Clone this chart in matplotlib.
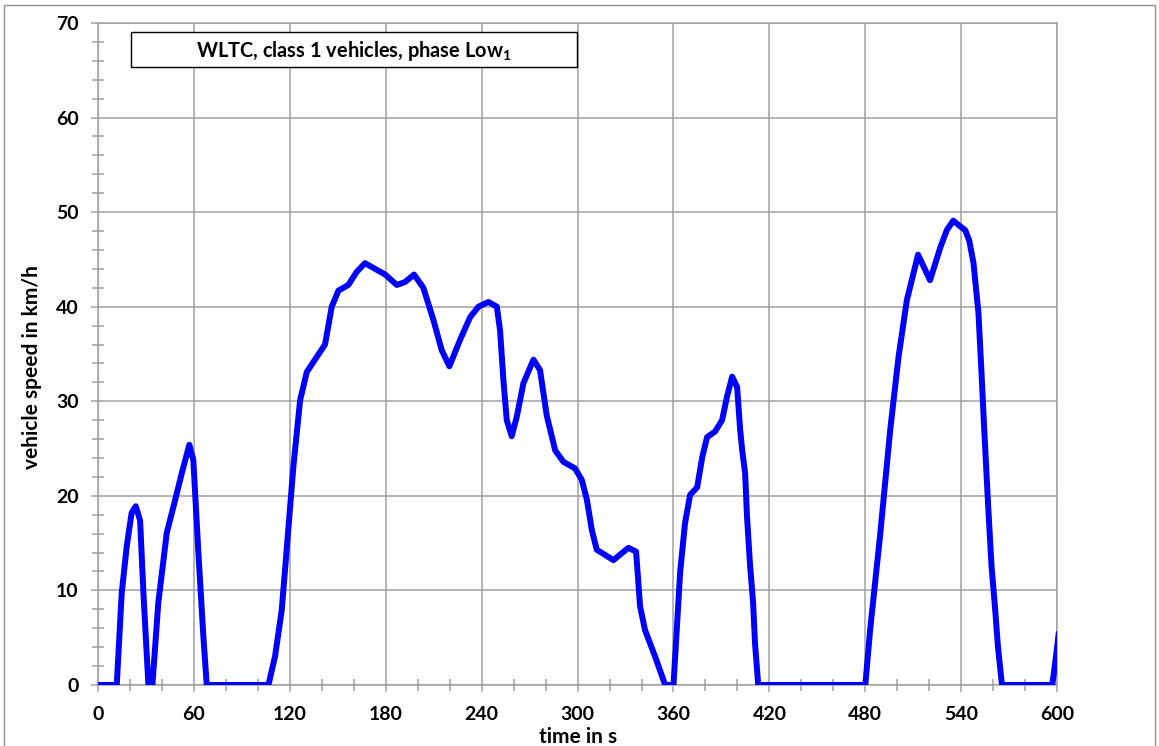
import numpy as np
import matplotlib
matplotlib.use('Agg')
import matplotlib.pyplot as plt
from matplotlib.patches import Rectangle
from matplotlib.ticker import MultipleLocator

# WLTC class 1, phase Low1
time_s = [0, 11.7, 14.8, 17.9, 21, 23.6, 26.3, 28.4, 31.5, 34, 37.7, 43, 47.1, 52.4, 57.1,
          59.6, 62.8, 65.9, 68, 106.6, 110.7, 114.9, 118, 122.2, 126.4, 130.6, 142, 146.2,
          150.4, 156.6, 161.9, 167, 179.6, 186.9, 192, 197.7, 203.5, 209.8, 215, 219.8,
          226.5, 232.8, 238, 244.2, 249.5, 251.5, 253.6, 255.7, 258.8, 262, 266.1, 272.4,
          276.5, 280.7, 286, 291.1, 298.4, 302.6, 305.8, 308.9, 312, 322.4, 331.8, 336.6,
          339.1, 342.2, 348.5, 354.8, 360, 364.2, 367.2, 370.4, 374.8, 378, 381, 386, 390.4,
          393.5, 396.7, 399.8, 401.7, 403, 404.8, 406, 407.8, 409.8, 411, 413, 480, 483,
          489.3, 495.6, 500.8, 506, 513, 520.5, 527, 531, 535, 539.3, 542.5, 545, 547.7,
          550.8, 552.9, 554.4, 557, 559, 561, 563, 565.5, 597, 600, 601]
speed_kmh = [0, 0, 9.7, 14.6, 18.2, 18.9, 17.4, 9.7, 0, 0, 8.7, 16.1, 18.8, 22.4, 25.4,
             23.8, 13.9, 5.1, 0, 0, 3.0, 7.9, 14.3, 23.1, 30.1, 33.1, 36, 40,
             41.7, 42.3, 43.7, 44.6, 43.4, 42.3, 42.6, 43.4, 42, 38.6, 35.4, 33.7,
             36.5, 38.9, 40, 40.5, 40, 37.5, 32.2, 28, 26.3, 28.4, 31.9, 34.4,
             33.3, 28.5, 24.8, 23.6, 22.9, 21.7, 19.6, 16.4, 14.3, 13.2, 14.5, 14.1,
             8.3, 5.8, 3.0, 0, 0, 12, 17.1, 20.1, 20.9, 24.1, 26.2, 26.8, 28,
             30.5, 32.6, 31.5, 27, 24.8, 22.4, 17.8, 12.9, 8.7, 4.4, 0, 0, 5.8,
             15.9, 27, 34.7, 40.7, 45.5, 42.8, 46.3, 48.1, 49.1, 48.5, 48.1, 47, 44.6,
             39.3, 32.3, 27, 18.5, 12.5, 8.5, 4, 0, 0, 4, 5.5]

x_ticks = np.arange(0, 601, 60)
y_ticks = np.arange(0, 71, 10)
title_text = 'WLTC, class 1 vehicles, phase Low$_\\mathregular{1}$'

plt.rcParams['font.family'] = ['Lato', 'DejaVu Sans']
plt.rcParams['font.weight'] = 'bold'

fig = plt.figure(figsize=(11.59, 7.46), dpi=100)
ax = fig.add_axes([0.0846, 0.0818, 0.8275, 0.8874])

ax.plot(time_s, speed_kmh, color='#0000ff', lw=4.3, solid_joinstyle='round',
        solid_capstyle='round', zorder=3)

ax.set_xlim(0, 600)
ax.set_ylim(0, 70)
ax.set_xticks(x_ticks)
ax.set_yticks(y_ticks)
ax.xaxis.set_minor_locator(MultipleLocator(20))
ax.yaxis.set_minor_locator(MultipleLocator(2))
ax.grid(True, which='major', color='#a0a0a0', lw=1.1)
ax.set_axisbelow(True)
for s in ax.spines.values():
    s.set_color('#a0a0a0')
    s.set_linewidth(1.1)
ax.tick_params(which='major', direction='out', length=5, width=1.1, color='#a0a0a0',
               labelsize=14)
ax.tick_params(which='minor', direction='inout', length=8, width=1.1, color='#a0a0a0')
ax.tick_params(axis='x', which='major', pad=10)
ax.tick_params(axis='y', which='major', pad=9)

ax.set_xlabel('time in s', fontsize=15, fontweight='bold')
ax.set_ylabel('vehicle speed in km/h', fontsize=15, fontweight='bold')
ax.xaxis.set_label_coords(0.5, -0.064)
ax.yaxis.set_label_coords(-0.058, 0.48)

ax.add_patch(Rectangle((0.0344, 0.9335), 0.465, 0.0529, transform=ax.transAxes,
                       facecolor='white', edgecolor='black', lw=1.0, zorder=4))
ax.text(0.267, 0.958, title_text, transform=ax.transAxes, ha='center', va='center',
        fontsize=14.4, fontweight='bold', zorder=5)

fig.patches.append(Rectangle((0.0035, -0.01), 0.993, 1.003, transform=fig.transFigure,
                             fill=False, edgecolor='#909090', lw=1.0))

fig.savefig('out.png', dpi=100)
